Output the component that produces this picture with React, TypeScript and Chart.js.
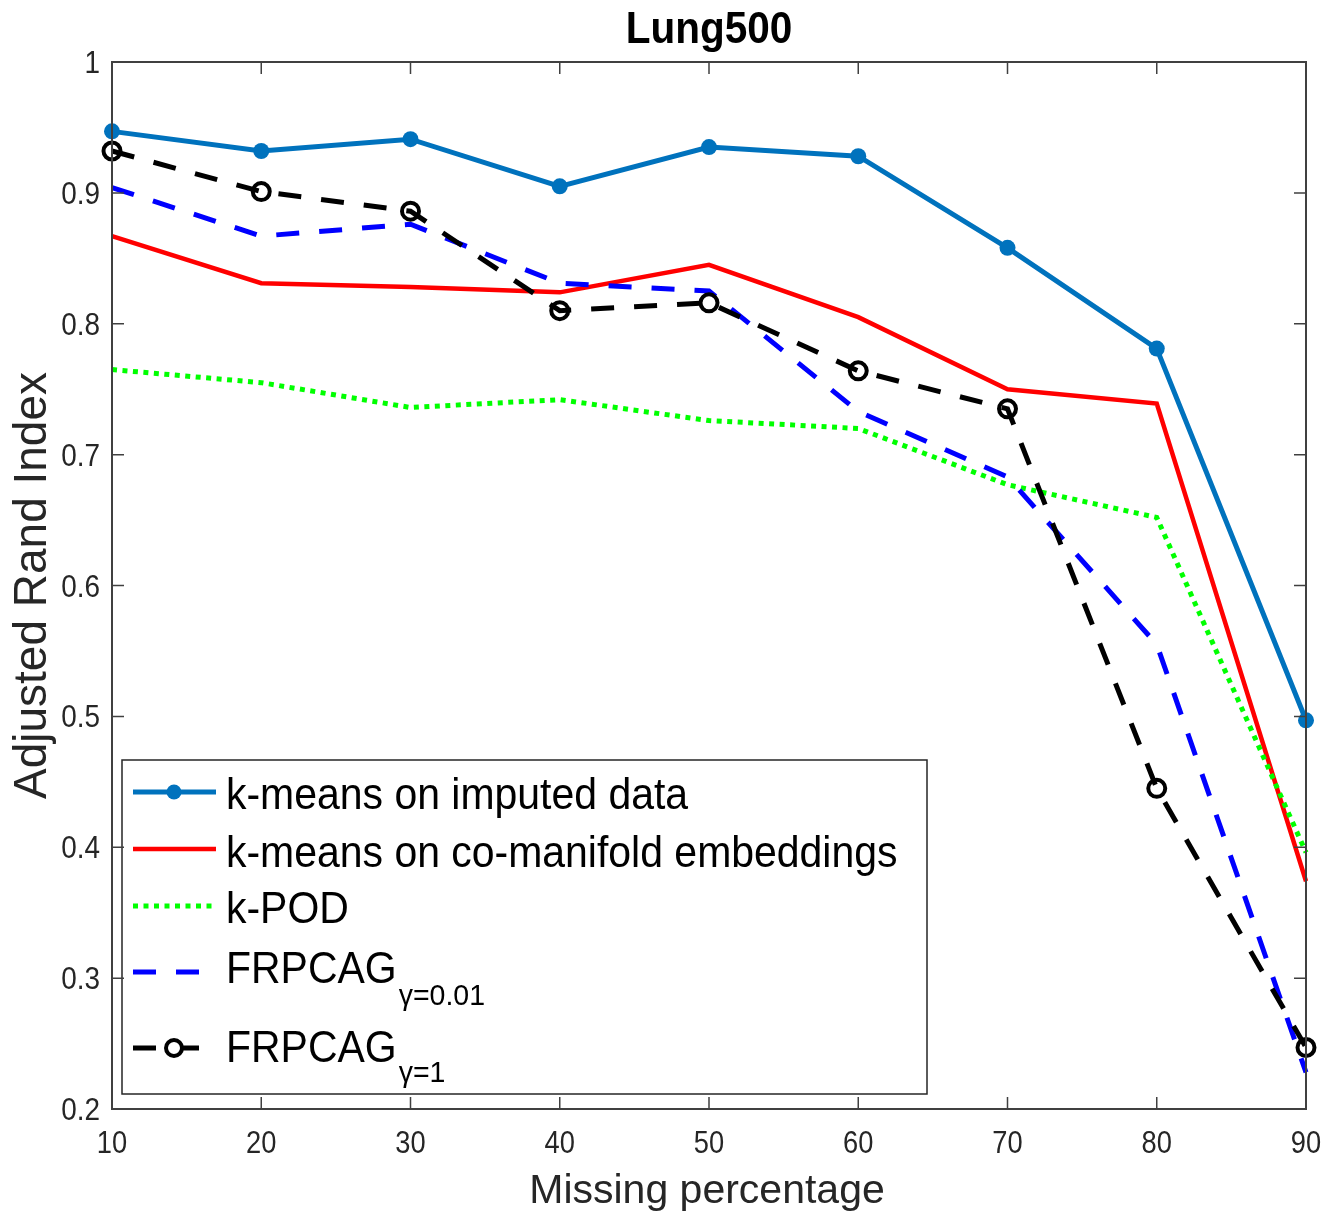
import React, { useEffect, useRef } from "react";
import { Chart, registerables } from "chart.js";

Chart.register(...registerables);

const FONT = "'Liberation Sans', Arial, Helvetica, sans-serif";

// ---------- data ----------
const missingPct = [10, 20, 30, 40, 50, 60, 70, 80, 90];
const kmeansImputed = [0.947, 0.932, 0.941, 0.905, 0.935, 0.928, 0.858, 0.781, 0.497];
const kmeansCoManifold = [0.867, 0.831, 0.828, 0.824, 0.845, 0.805, 0.75, 0.739, 0.374];
const kPOD = [0.765, 0.755, 0.736, 0.742, 0.726, 0.72, 0.677, 0.652, 0.396];
const frpcag001 = [0.904, 0.867, 0.876, 0.831, 0.825, 0.733, 0.683, 0.555, 0.228];
const frpcag1 = [0.932, 0.901, 0.886, 0.81, 0.816, 0.764, 0.735, 0.445, 0.247];

const seriesNames = [
  "k-means on imputed data",
  "k-means on co-manifold embeddings",
  "k-POD",
  "FRPCAG",
  "FRPCAG",
];
const seriesSubscripts = ["", "", "", "γ=0.01", "γ=1"];
const xTicks = [10, 20, 30, 40, 50, 60, 70, 80, 90];
const yTicks = [0.2, 0.3, 0.4, 0.5, 0.6, 0.7, 0.8, 0.9, 1];
const chartTitle = "Lung500";
const xTitle = "Missing percentage";
const yTitle = "Adjusted Rand Index";

const toPoints = (ys: number[]) => missingPct.map((x, i) => ({ x, y: ys[i] }));
const fmtTick = (v: number) => String(Number(v.toFixed(1)));

const AXIS_COLOR = "#404040";
const TEXT_COLOR = "#262626";

// legend layout (offsets relative to legend box top)
const legendLineOffsets = [32, 89, 146, 212, 288];
const legendTextOffsets = [49, 107, 163, 223, 302];
const legendSubOffsets = [0, 0, 0, 245, 322];

function drawText(
  ctx: CanvasRenderingContext2D,
  text: string,
  x: number,
  y: number,
  size: number,
  sx: number,
  align: CanvasTextAlign,
  bold = false,
  color = TEXT_COLOR
) {
  ctx.save();
  ctx.translate(x, y);
  ctx.scale(sx, 1);
  ctx.font = `${bold ? "bold " : ""}${size}px ${FONT}`;
  ctx.fillStyle = color;
  ctx.textAlign = align;
  ctx.textBaseline = "alphabetic";
  ctx.fillText(text, 0, 0);
  ctx.restore();
}

const textPlugin = {
  id: "matlabText",
  afterDraw(chart: any) {
    const { ctx, chartArea } = chart;
    const xs = chart.scales.x;
    const ys = chart.scales.y;
    drawText(ctx, chartTitle, (chartArea.left + chartArea.right) / 2, 43, 45, 0.9, "center", true, "#000000");
    yTicks.forEach((v) => {
      drawText(ctx, fmtTick(v), chartArea.left - 12, ys.getPixelForValue(v) + 11, 31, 0.9, "right");
    });
    xTicks.forEach((v) => {
      drawText(ctx, String(v), xs.getPixelForValue(v), chartArea.bottom + 44, 31, 0.88, "center");
    });
    drawText(ctx, xTitle, (chartArea.left + chartArea.right) / 2 - 2, chartArea.bottom + 94, 41, 1, "center");
    ctx.save();
    ctx.translate(46, (chartArea.top + chartArea.bottom) / 2);
    ctx.rotate(-Math.PI / 2);
    ctx.font = `46px ${FONT}`;
    ctx.fillStyle = TEXT_COLOR;
    ctx.textAlign = "center";
    ctx.textBaseline = "alphabetic";
    ctx.fillText(yTitle, 0, 0);
    ctx.restore();
  },
};

const framePlugin = {
  id: "matlabFrame",
  afterDraw(chart: any) {
    const { ctx, chartArea } = chart;
    const { left, right, top, bottom } = chartArea;
    const xs = chart.scales.x;
    const ys = chart.scales.y;
    ctx.save();
    ctx.strokeStyle = AXIS_COLOR;
    ctx.lineWidth = 1.5;
    const tl = 12;
    ctx.beginPath();
    xTicks.forEach((v) => {
      const px = xs.getPixelForValue(v);
      ctx.moveTo(px, bottom);
      ctx.lineTo(px, bottom - tl);
      ctx.moveTo(px, top);
      ctx.lineTo(px, top + tl);
    });
    yTicks.forEach((v) => {
      const py = ys.getPixelForValue(v);
      ctx.moveTo(left, py);
      ctx.lineTo(left + tl, py);
      ctx.moveTo(right, py);
      ctx.lineTo(right - tl, py);
    });
    ctx.stroke();
    ctx.lineWidth = 2;
    ctx.strokeRect(left, top, right - left, bottom - top);
    ctx.restore();
  },
};

const legendPlugin = {
  id: "matlabLegend",
  afterDatasetsDraw(chart: any) {
    const { ctx, chartArea } = chart;
    const x0 = chartArea.left + 10;
    const y1 = chartArea.bottom - 15;
    const w = 805;
    const h = 334;
    const y0 = y1 - h;
    ctx.save();
    ctx.fillStyle = "#ffffff";
    ctx.fillRect(x0, y0, w, h);
    ctx.strokeStyle = "#262626";
    ctx.lineWidth = 1.5;
    ctx.strokeRect(x0, y0, w, h);
    chart.data.datasets.forEach((ds: any, i: number) => {
      const cy = y0 + legendLineOffsets[i];
      ctx.beginPath();
      ctx.setLineDash(ds.borderDash || []);
      ctx.lineCap = "butt";
      ctx.lineWidth = ds.borderWidth;
      ctx.strokeStyle = ds.borderColor;
      ctx.moveTo(x0 + 11, cy);
      ctx.lineTo(x0 + 94, cy);
      ctx.stroke();
      ctx.setLineDash([]);
      if (ds.pointRadius > 0) {
        ctx.beginPath();
        ctx.arc(x0 + 52, cy, ds.pointRadius - 0.5, 0, Math.PI * 2);
        if (ds.pointBackgroundColor && ds.pointBackgroundColor !== "rgba(0,0,0,0)") {
          ctx.fillStyle = ds.pointBackgroundColor;
          ctx.fill();
        } else {
          ctx.fillStyle = "#ffffff";
          ctx.fill();
          ctx.lineWidth = ds.pointBorderWidth;
          ctx.strokeStyle = ds.pointBorderColor;
          ctx.stroke();
        }
      }
      const label = seriesNames[i];
      const tx = x0 + 104;
      drawText(ctx, label, tx, y0 + legendTextOffsets[i], 45, 0.91, "left", false, "#000000");
      const sub = seriesSubscripts[i];
      if (sub) {
        ctx.font = `45px ${FONT}`;
        const tw = ctx.measureText(label).width * 0.91;
        drawText(ctx, sub, tx + tw + 2, y0 + legendSubOffsets[i], 30, 0.95, "left", false, "#000000");
      }
    });
    ctx.restore();
  },
};

export default function App() {
  const ref = useRef<HTMLCanvasElement>(null);
  useEffect(() => {
    document.body.style.margin = "0";
    const chart = new Chart(ref.current as HTMLCanvasElement, {
      type: "line",
      data: {
        datasets: [
          {
            label: seriesNames[0],
            data: toPoints(kmeansImputed),
            borderColor: "#0072BD",
            backgroundColor: "#0072BD",
            borderWidth: 5,
            pointRadius: 8,
            pointBackgroundColor: "#0072BD",
            pointBorderColor: "#0072BD",
            pointBorderWidth: 0,
            clip: false,
            order: 4,
          },
          {
            label: seriesNames[1],
            data: toPoints(kmeansCoManifold),
            borderColor: "#FF0000",
            backgroundColor: "#FF0000",
            borderWidth: 4.5,
            pointRadius: 0,
            clip: false,
            order: 3,
          },
          {
            label: seriesNames[2],
            data: toPoints(kPOD),
            borderColor: "#00FF00",
            backgroundColor: "#00FF00",
            borderWidth: 5,
            borderDash: [5, 5.5],
            pointRadius: 0,
            clip: false,
            order: 2,
          },
          {
            label: seriesNames[3] + " " + seriesSubscripts[3],
            data: toPoints(frpcag001),
            borderColor: "#0000FF",
            backgroundColor: "#0000FF",
            borderWidth: 5,
            borderDash: [23, 20],
            pointRadius: 0,
            clip: false,
            order: 1,
          },
          {
            label: seriesNames[4] + " " + seriesSubscripts[4],
            data: toPoints(frpcag1),
            borderColor: "#000000",
            backgroundColor: "#000000",
            borderWidth: 5,
            borderDash: [23, 20],
            pointRadius: 8.5,
            pointBackgroundColor: "rgba(0,0,0,0)",
            pointBorderColor: "#000000",
            pointBorderWidth: 4,
            clip: false,
            order: 0,
          },
        ] as any,
      },
      options: {
        responsive: false,
        animation: false,
        layout: { padding: { top: 62, right: 31, left: 0, bottom: 0 } },
        plugins: {
          legend: { display: false },
          tooltip: { enabled: false },
          title: { display: false },
        },
        scales: {
          x: {
            type: "linear",
            min: 10,
            max: 90,
            afterFit: (s: any) => {
              s.height = 110;
            },
            afterBuildTicks: (s: any) => {
              s.ticks = xTicks.map((v) => ({ value: v }));
            },
            grid: { display: false, drawTicks: false },
            border: { display: false },
            ticks: { display: false },
            title: { display: false, text: xTitle },
          },
          y: {
            type: "linear",
            min: 0.2,
            max: 1,
            afterFit: (s: any) => {
              s.width = 112;
            },
            afterBuildTicks: (s: any) => {
              s.ticks = yTicks.map((v) => ({ value: v }));
            },
            grid: { display: false, drawTicks: false },
            border: { display: false },
            ticks: { display: false },
            title: { display: false, text: yTitle },
          },
        },
      },
      plugins: [legendPlugin, framePlugin, textPlugin],
    });
    return () => chart.destroy();
  }, []);
  return (
    <div style={{ width: 1337, height: 1219 }}>
      <canvas ref={ref} width={1337} height={1219} style={{ display: "block" }} />
    </div>
  );
}
